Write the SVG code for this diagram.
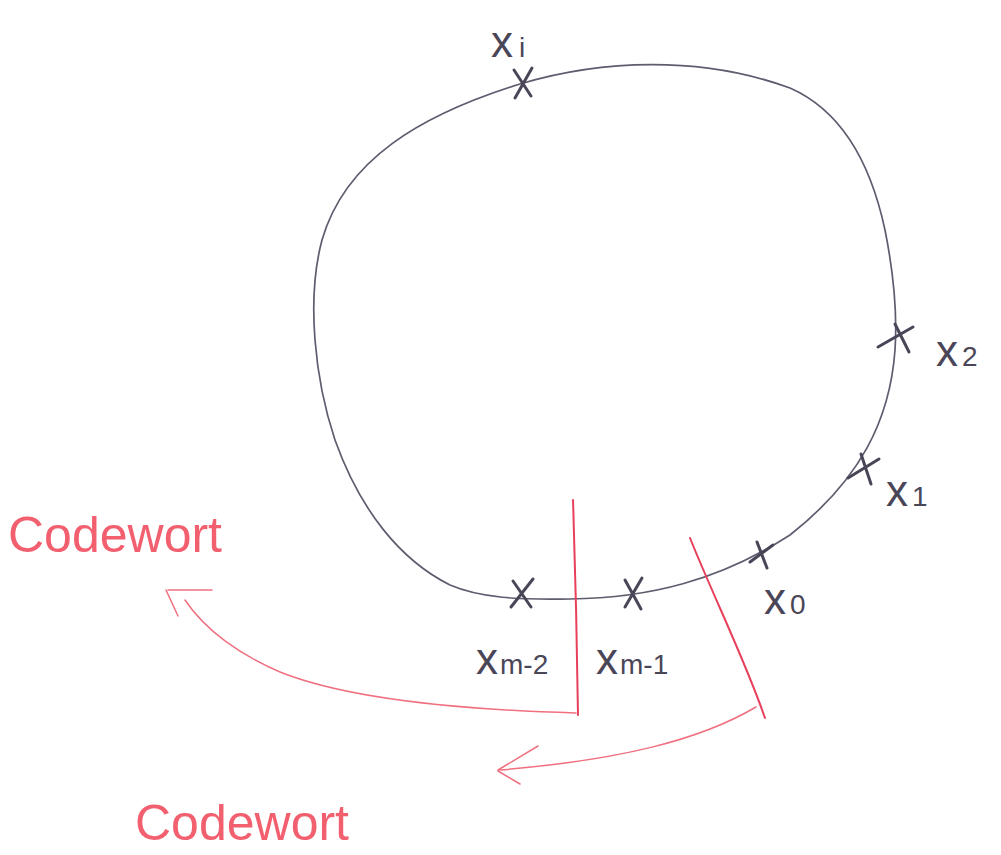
<svg xmlns="http://www.w3.org/2000/svg" width="1001" height="855" viewBox="0 0 1001 855">
<style>
.ring{fill:none;stroke:#5e5c6e;stroke-width:1.7}
.mark{fill:none;stroke:#4a4658;stroke-width:3;stroke-linecap:round}
.lbl{font-family:"Liberation Sans",sans-serif;fill:#4a4658;font-size:44px}
.sub{font-size:28px}
.red{fill:none;stroke:#e8405a;stroke-width:2;stroke-linecap:round}
.redthin{fill:none;stroke:#f07080;stroke-width:1.5;stroke-linecap:round}
.rtxt{font-family:"Liberation Sans",sans-serif;fill:#f26070;font-size:50px}
</style>
<rect width="1001" height="855" fill="#ffffff"/>
<g id="ring">
<path class="ring" d="M520,84 C600,60 700,55 790,88 C840,110 870,160 885,230 C895,280 897,320 895,350 C890,420 860,480 790,535 C720,580 650,598 570,599 C520,600 480,598 450,585 C400,560 360,510 335,440 C315,380 306,300 322,240 C345,160 420,115 520,84 Z"/>
</g>
<g id="x_i">
<path class="mark" d="M514,70 L531,96 M532,68 L515,98"/>
<text class="lbl" x="491" y="57">x<tspan class="sub" dx="6">i</tspan></text>
</g>
<g id="x_2">
<path class="mark" d="M878,347 L913,327 M895,324 L909,352"/>
<text class="lbl" x="936" y="366">x<tspan class="sub" dx="4">2</tspan></text>
</g>
<g id="x_1">
<path class="mark" d="M848,478 L879,459 M861,454 L871,484"/>
<text class="lbl" x="886" y="506">x<tspan class="sub" dx="4">1</tspan></text>
</g>
<g id="x_0">
<path class="mark" d="M750,562 L773,545 M757,542 L767,568"/>
<text class="lbl" x="764" y="614">x<tspan class="sub" dx="4">0</tspan></text>
</g>
<g id="x_m-1">
<path class="mark" d="M625,580 L641,609 M642,578 L625,607"/>
<text class="lbl" x="596" y="674">x<tspan class="sub" dx="2">m-1</tspan></text>
</g>
<g id="x_m-2">
<path class="mark" d="M513,581 L531,607 M533,579 L511,607"/>
<text class="lbl" x="476" y="674">x<tspan class="sub" dx="2">m-2</tspan></text>
</g>
<g id="connectors">
<path class="red" d="M573,500 C575,560 577,640 578,715"/>
<path class="red" d="M690,538 C715,600 745,660 765,718"/>
<path class="redthin" d="M576,713 C470,710 350,700 280,672 C240,655 205,630 185,600"/>
<path class="redthin" d="M166,590 L178,616 M168,590 L212,590"/>
<path class="redthin" d="M756,707 C700,740 620,760 500,770"/>
<path class="redthin" d="M498,770 L538,746 M498,771 L520,784"/>
</g>
<g id="codewort-top">
<text class="rtxt" x="8" y="552">Codewort</text>
</g>
<g id="codewort-bottom">
<text class="rtxt" x="135" y="840" font-size="56">Codewort</text>
</g>
</svg>
